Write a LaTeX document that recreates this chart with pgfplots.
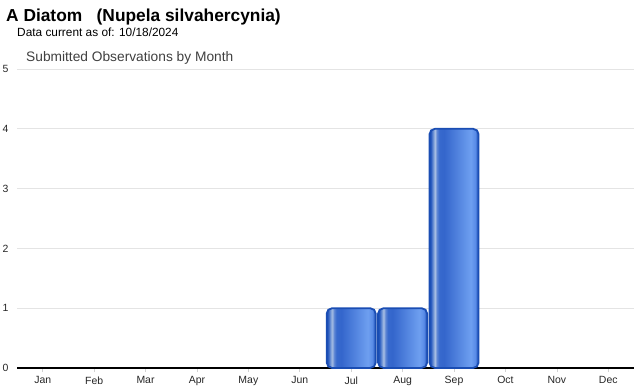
\documentclass[border=0pt]{standalone}
\usepackage{pgfplots}
\pgfplotsset{compat=1.18}
\usepackage{fontspec}
\setmainfont{Liberation Sans}
\definecolor{bedge}{HTML}{1A4DB3}
\definecolor{gridc}{HTML}{E4E4E4}
\pgfdeclarehorizontalshading{barshade}{100bp}{
 color(0bp)=(bedge);
 color(25bp)=(bedge);
 color(26.5bp)=(rgb,255:red,42;green,92;blue,192);
 color(29bp)=(rgb,255:red,120;green,155;blue,215);
 color(30.5bp)=(rgb,255:red,170;green,192;blue,228);
 color(32.5bp)=(rgb,255:red,95;green,135;blue,212);
 color(35bp)=(rgb,255:red,55;green,105;blue,205);
 color(40bp)=(rgb,255:red,52;green,102;blue,204);
 color(67bp)=(rgb,255:red,110;green,159;blue,240);
 color(71.5bp)=(rgb,255:red,90;green,140;blue,232);
 color(75bp)=(bedge);
 color(100bp)=(bedge)}
\pgfplotsset{mybar/.style={ybar, bar shift=0pt, bar width=0.955, draw=bedge, line width=1.8bp, rounded corners=5.5bp, shading=barshade}}
\begin{document}
\begin{tikzpicture}
\begin{axis}[
  name=ax,
  scale only axis, width=617bp, height=299bp,
  xmin=-0.5, xmax=11.5, ymin=0, ymax=5,
  xtick={0,...,11},
  xticklabels={Jan,Feb,Mar,Apr,May,Jun,Jul,Aug,Sep,Oct,Nov,Dec},
  ytick={0,...,5},
  axis x line*=bottom, axis y line*=left,
  x axis line style={black,line width=1.6bp,-},
  y axis line style={draw=none},
  ymajorgrids, grid style={gridc,line width=0.8bp},
  ytick style={draw=none},
  xtick style={draw=gray!35,line width=0.7bp},
  tick align=outside, major tick length=4bp,
  /pgf/number format/assume math mode=true,
  ticklabel style={font=\fontsize{10.5}{12}\selectfont,text=black!85},
  yticklabel style={xshift=-1bp},
  xticklabel style={yshift=-1bp},
  clip=false,
]
\addplot[mybar] coordinates {(6,1)};
\addplot[mybar] coordinates {(7,1)};
\addplot[mybar] coordinates {(8,4)};
\end{axis}
\node[anchor=base west,inner sep=0,font=\fontsize{17.4}{19}\selectfont\bfseries] at ([shift={(-11bp,346.5bp)}]ax.south west) {A Diatom\ \ \ (Nupela silvahercynia)};
\node[anchor=base west,inner sep=0,font=\fontsize{11.9}{13}\selectfont] at ([shift={(0bp,331.3bp)}]ax.south west) {Data current as of: 10/18/2024};
\node[anchor=base west,inner sep=0,font=\fontsize{13.8}{16}\selectfont,text=black!75] at ([shift={(9bp,306.5bp)}]ax.south west) {Submitted Observations by Month};
\pgfresetboundingbox
\path[use as bounding box] ([shift={(-17bp,-22bp)}]ax.south west) rectangle ([shift={(623bp,368bp)}]ax.south west);
\end{tikzpicture}
\end{document}
